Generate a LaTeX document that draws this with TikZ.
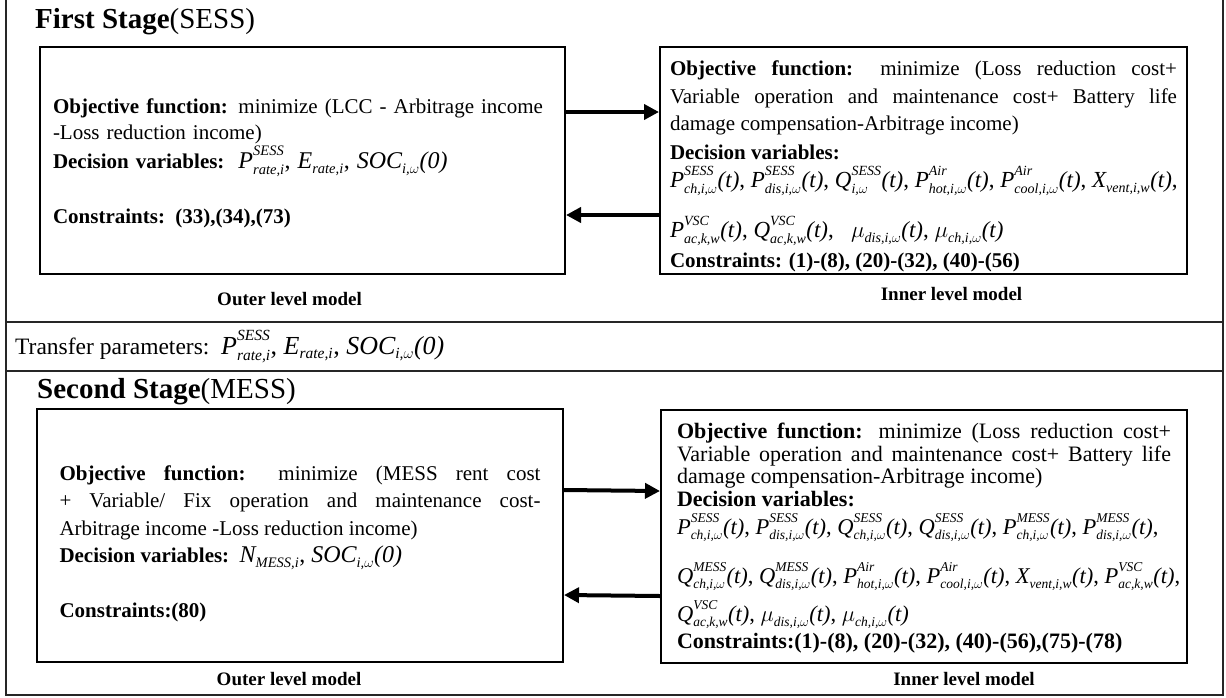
\RequirePackage{fix-cm}
\documentclass[tikz,border=0pt]{standalone}
\usepackage{amsmath}
\usepackage{fontspec}
\setmainfont{Liberation Serif}
\usetikzlibrary{positioning, arrows.meta}

\DeclareMathSizes{23}{23}{14}{10}
\DeclareMathSizes{22.5}{22.5}{13.5}{10}
\DeclareMathSizes{24}{24}{14.5}{11}
\DeclareMathSizes{26}{26}{15.5}{11}

% italic script text, variables with raised superscript
\newcommand{\sx}[1]{\text{\itshape #1}}
\newcommand{\pv}[3]{\mathit{#1}^{\raisebox{4pt}{$\scriptstyle\sx{#2}$}}_{\sx{#3}}}
\newcommand{\pb}[2]{\mathit{#1}_{\sx{#2}\rule{0pt}{13pt}}}
\newcommand{\tm}{\sx{(t)}}
\newcommand{\cs}{\text{, }}

\begin{document}
\begin{tikzpicture}[
    x=1pt, y=-1pt,
    frame/.style={line width=1.4pt, draw=black!85},
    stage/.style={anchor=base west, inner sep=0pt, font=\fontsize{29}{34}\selectfont},
    model/.style={rectangle, draw, line width=2pt, font=\fontsize{21}{26}\selectfont,
        execute at begin node={\lineskiplimit=-40pt}},
    drop/.style={execute at end node={\endgraf\kern-#1}},
    level/.style={inner sep=0pt, font=\fontsize{19}{22}\selectfont\bfseries},
    arrow/.style={-{Triangle[length=15pt, width=15pt]}, line width=4pt},
]
\useasboundingbox (0,0) rectangle (1226,697);
% outer frame
\draw[frame] (6,-2) -- (6,695) -- (1223,695) -- (1223,-2);
\draw[frame] (6,322) -- (1223,322);
\draw[frame] (6,371) -- (1223,371);

% first stage
\node[stage] (stage1) at (35,28) {\textbf{First Stage}(SESS)};
\node[model, drop=6pt, minimum width=525pt, minimum height=227pt, text width=499pt, inner xsep=13pt, align=left] (outer1) at (302.5,160.5) {\textbf{Objective function:} minimize (LCC - Arbitrage income\\
-Loss reduction income)\\[3pt]
\textbf{Decision variables:}~~{\fontsize{24}{26}\selectfont$\pv{P}{SESS}{rate,i}\cs\pb{E}{rate,i}\cs\pb{SOC}{i,$\omega$}\sx{(0)}$}\\[29pt]
\textbf{Constraints: (33),(34),(73)}};
\node[model, drop=12pt, minimum width=527pt, minimum height=227pt, text width=507pt, inner xsep=10pt, align=justify, font=\fontsize{21}{27.5}\selectfont] (inner1) at (923.5,160.5) {\textbf{Objective function:} minimize (Loss reduction cost+\linebreak
Variable operation and maintenance cost+ Battery life\linebreak
damage compensation-Arbitrage income)\\[1.5pt]
\textbf{Decision variables:}\\
{\fontsize{23}{27.5}\selectfont$\pv{P}{SESS}{ch,i,$\omega$}\tm\cs\pv{P}{SESS}{dis,i,$\omega$}\tm\cs\pv{Q}{SESS}{i,$\omega$}\tm\cs\pv{P}{Air}{hot,i,$\omega$}\tm\cs\pv{P}{Air}{cool,i,$\omega$}\tm\cs\pb{X}{vent,i,w}\tm\text{,}$}\\[22.5pt]
{\fontsize{23}{27.5}\selectfont$\pv{P}{VSC}{ac,k,w}\tm\cs\pv{Q}{VSC}{ac,k,w}\tm\text{,~~ }\pb{\mu}{dis,i,$\omega$}\tm\cs\pb{\mu}{ch,i,$\omega$}\tm$}\\[2.5pt]
\textbf{Constraints: (1)-(8), (20)-(32), (40)-(56)}};
\node[level, below=17pt of outer1, xshift=-13pt] (outerlbl1) {Outer level model};
\node[level, below=12pt of inner1, xshift=28pt] (innerlbl1) {Inner level model};
\draw[arrow] ([yshift=48.5pt]outer1.east) -- ([yshift=48.5pt]inner1.west);
\draw[arrow] ([yshift=-54.5pt]inner1.west) -- ([yshift=-54.5pt]outer1.east);

% transfer parameters
\node[anchor=base west, inner sep=0pt, font=\fontsize{23.5}{28}\selectfont] (transfer) at (15,354) {Transfer parameters:~~{\fontsize{26}{28}\selectfont$\pv{P}{SESS}{rate,i}\cs\pb{E}{rate,i}\cs\pb{SOC}{i,$\omega$}\sx{(0)}$}};

% second stage
\node[stage] (stage2) at (37,398) {\textbf{Second Stage}(MESS)};
\node[model, drop=17pt, minimum width=526pt, minimum height=253pt, text width=481pt, inner xsep=22.5pt, align=justify, font=\fontsize{21}{27.5}\selectfont] (outer2) at (300,535.5) {\rightskip=22pt\relax
\textbf{Objective function:} minimize (MESS rent cost\linebreak
+ Variable/ Fix operation and maintenance cost-\linebreak
Arbitrage income -Loss reduction income)\\
\textbf{Decision variables:}~~{\fontsize{24}{27.5}\selectfont$\pb{N}{MESS,i}\cs\pb{SOC}{i,$\omega$}\sx{(0)}$}\\[27.5pt]
\textbf{Constraints:(80)}};
\node[model, drop=4pt, minimum width=526pt, minimum height=253pt, text width=494pt, inner xsep=16pt, align=justify, font=\fontsize{22}{22.5}\selectfont] (inner2) at (924,536.5) {\rightskip=13pt\relax
\textbf{Objective function:} minimize (Loss reduction cost+\linebreak
Variable operation and maintenance cost+ Battery life\linebreak
damage compensation-Arbitrage income)\\
\textbf{Decision variables:}\\[5.5pt]
{\fontsize{22.5}{22.5}\selectfont$\pv{P}{SESS}{ch,i,$\omega$}\tm\cs\pv{P}{SESS}{dis,i,$\omega$}\tm\cs\pv{Q}{SESS}{ch,i,$\omega$}\tm\cs\pv{Q}{SESS}{dis,i,$\omega$}\tm\cs\pv{P}{MESS}{ch,i,$\omega$}\tm\cs\pv{P}{MESS}{dis,i,$\omega$}\tm\text{,}$}\\[26.5pt]
{\fontsize{22.5}{22.5}\selectfont$\pv{Q}{MESS}{ch,i,$\omega$}\tm\cs\pv{Q}{MESS}{dis,i,$\omega$}\tm\cs\pv{P}{Air}{hot,i,$\omega$}\tm\cs\pv{P}{Air}{cool,i,$\omega$}\tm\cs\pb{X}{vent,i,w}\tm\cs\pv{P}{VSC}{ac,k,w}\tm\text{,}$}\\[15.5pt]
{\fontsize{22.5}{22.5}\selectfont$\pv{Q}{VSC}{ac,k,w}\tm\cs\pb{\mu}{dis,i,$\omega$}\tm\cs\pb{\mu}{ch,i,$\omega$}\tm$}\\[5pt]
\textbf{Constraints:(1)-(8), (20)-(32), (40)-(56),(75)-(78)}};
\node[level, below=9.5pt of outer2, xshift=-11pt] (outerlbl2) {Outer level model};
\node[level, below=8.5pt of inner2, xshift=40pt] (innerlbl2) {Inner level model};
\draw[arrow] ([yshift=45.5pt]outer2.east) -- ([yshift=45.5pt]inner2.west);
\draw[arrow] ([yshift=-59.5pt]inner2.west) -- ([yshift=-59.5pt]outer2.east);

\end{tikzpicture}
\end{document}
